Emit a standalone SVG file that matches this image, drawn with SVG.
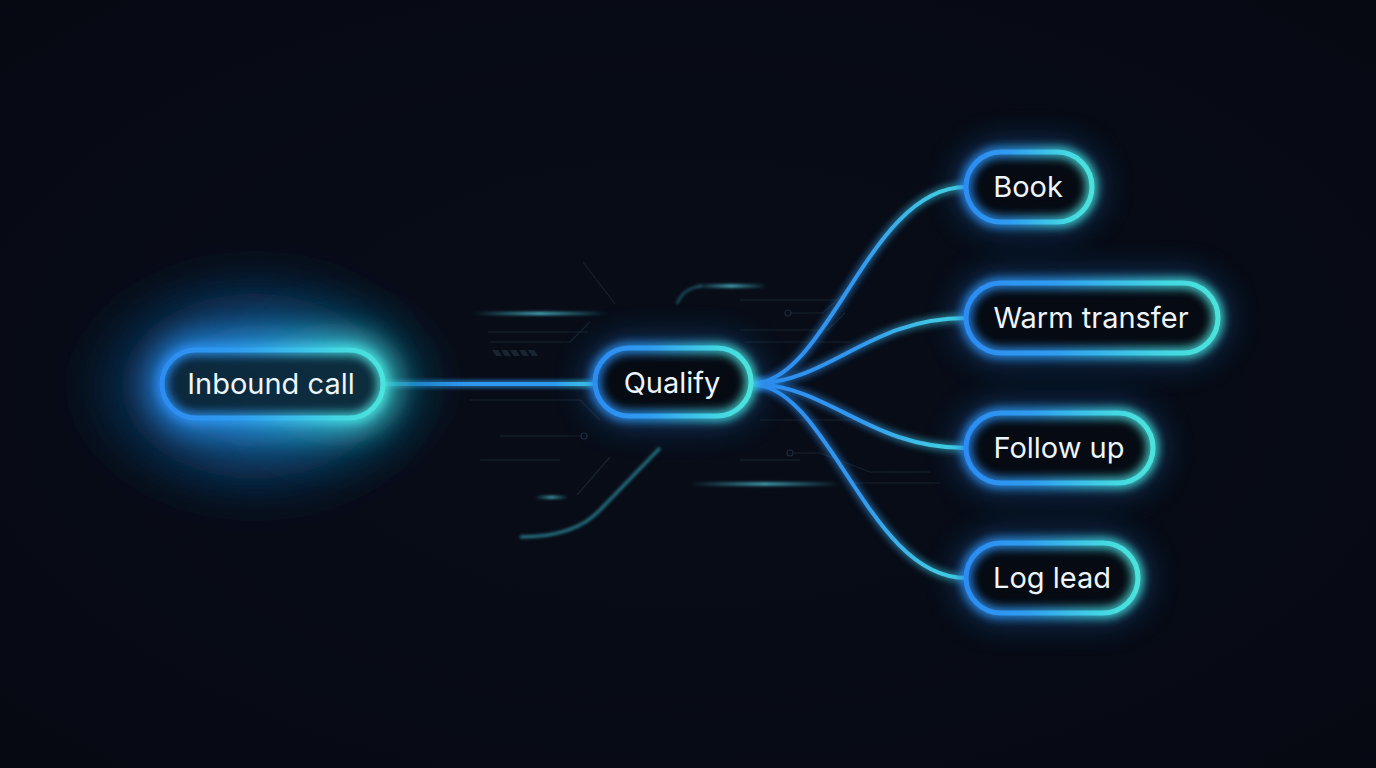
<svg xmlns="http://www.w3.org/2000/svg" width="1376" height="768" viewBox="0 0 1376 768">
<defs>
  <radialGradient id="bg" cx="50%" cy="50%" r="75%">
    <stop offset="0" stop-color="#080d18"/>
    <stop offset="1" stop-color="#060912"/>
  </radialGradient>
  <linearGradient id="pill" x1="0" y1="0.5" x2="1" y2="0.5">
    <stop offset="0" stop-color="#2c8cf2"/>
    <stop offset="0.35" stop-color="#2f9cf0"/>
    <stop offset="0.8" stop-color="#44d8e2"/>
    <stop offset="1" stop-color="#4be3dc"/>
  </linearGradient>
  <linearGradient id="fan" gradientUnits="userSpaceOnUse" x1="755" y1="0" x2="965" y2="0">
    <stop offset="0" stop-color="#2d8cf0"/>
    <stop offset="0.5" stop-color="#3398ee"/>
    <stop offset="1" stop-color="#46dde0"/>
  </linearGradient>
  <linearGradient id="straight" gradientUnits="userSpaceOnUse" x1="383" y1="0" x2="597" y2="0">
    <stop offset="0" stop-color="#3fcfe6"/>
    <stop offset="0.15" stop-color="#2f9af0"/>
    <stop offset="0.8" stop-color="#2f9af0"/>
    <stop offset="1" stop-color="#45d8e2"/>
  </linearGradient>
  <linearGradient id="streak" x1="0" y1="0" x2="1" y2="0">
    <stop offset="0" stop-color="#3fd0e6" stop-opacity="0"/>
    <stop offset="0.5" stop-color="#5ad8ea" stop-opacity="0.9"/>
    <stop offset="1" stop-color="#3fd0e6" stop-opacity="0"/>
  </linearGradient>
  <radialGradient id="haloBlue" cx="50%" cy="50%" r="50%">
    <stop offset="0" stop-color="#2390e0" stop-opacity="1"/>
    <stop offset="0.45" stop-color="#1668ad" stop-opacity="0.7"/>
    <stop offset="0.8" stop-color="#0c3560" stop-opacity="0.28"/>
    <stop offset="1" stop-color="#0b2a48" stop-opacity="0"/>
  </radialGradient>
  <radialGradient id="haloTeal" cx="50%" cy="50%" r="50%">
    <stop offset="0" stop-color="#2ccad4" stop-opacity="0.75"/>
    <stop offset="0.5" stop-color="#1a90a6" stop-opacity="0.3"/>
    <stop offset="1" stop-color="#0b3040" stop-opacity="0"/>
  </radialGradient>
  <filter id="b3" x="-50%" y="-50%" width="200%" height="200%"><feGaussianBlur stdDeviation="3"/></filter>
  <filter id="b5" x="-50%" y="-50%" width="200%" height="200%"><feGaussianBlur stdDeviation="5"/></filter>
  <filter id="b12" x="-60%" y="-80%" width="220%" height="260%"><feGaussianBlur stdDeviation="12"/></filter>
  <filter id="b16" x="-60%" y="-80%" width="220%" height="260%"><feGaussianBlur stdDeviation="16"/></filter>
  <filter id="b1" filterUnits="userSpaceOnUse" x="0" y="0" width="1376" height="768"><feGaussianBlur stdDeviation="1.6"/></filter>
</defs>
<style>
  .lbl { font-family: Inter, "Noto Sans", "Liberation Sans", sans-serif; font-size: 29px; fill: #eef5fa; text-anchor: middle; }
  .fill { fill: #060a12; }
  .edge { fill: none; stroke: url(#pill); stroke-width: 5; }
  .edgeGlow { fill: none; stroke: url(#pill); stroke-width: 11; opacity: 0.9; filter: url(#b5); }
  .haze { fill: none; stroke: #1f78d8; stroke-width: 16; opacity: 0.5; filter: url(#b16); }
  .wire { fill: none; stroke: url(#fan); stroke-width: 4; stroke-linecap: round; }
  .wireGlow { fill: none; stroke: url(#fan); stroke-width: 9; opacity: 0.5; filter: url(#b3); }
  .circ { fill: none; stroke: #17222f; stroke-width: 1.2; }
  .dot { fill: none; stroke: #1e2b3a; stroke-width: 1.2; }
  .str { fill: url(#streak); filter: url(#b1); }
</style>

<rect width="1376" height="768" fill="url(#bg)"/>

<g id="decor">
  <path class="circ" d="M583 262 L615 304"/>
  <path class="circ" d="M488 332 L588 332"/>
  <path class="circ" d="M490 342 L570 342 L590 322"/>
  <g fill="#1a2534">
    <path d="M492 350 l6 0 l4 6 l-6 0z"/>
    <path d="M501 350 l6 0 l4 6 l-6 0z"/>
    <path d="M510 350 l6 0 l4 6 l-6 0z"/>
    <path d="M519 350 l6 0 l4 6 l-6 0z"/>
    <path d="M528 350 l6 0 l4 6 l-6 0z"/>
  </g>
  <path class="circ" d="M470 400 L580 400 L600 420"/>
  <path class="circ" d="M500 436 L580 436"/>
  <circle class="dot" cx="584" cy="436" r="3"/>
  <path class="circ" d="M610 457 L577 495"/>
  <path class="circ" d="M480 460 L560 460"/>
  <path class="circ" d="M740 300 L840 300"/>
  <path class="circ" d="M790 313 L823 313 L850 288"/>
  <circle class="dot" cx="788" cy="313" r="3"/>
  <path class="circ" d="M740 330 L828 330 L845 313"/>
  <path class="circ" d="M745 342 L850 342"/>
  <path class="circ" d="M760 420 L860 420"/>
  <circle class="dot" cx="790" cy="453" r="3"/>
  <path class="circ" d="M793 453 L820 453 L870 472 L930 472"/>
  <path class="circ" d="M740 460 L800 460"/>
  <path class="circ" d="M850 483 L940 483"/>
  <rect class="str" x="473" y="312" width="134" height="3"/>
  <rect class="str" x="690" y="482.5" width="150" height="3"/>
  <rect class="str" x="535" y="496" width="33" height="2.5"/>
  <rect class="str" x="695" y="284.5" width="72" height="3"/>
  <path d="M677 304 Q 683 288 702 286" fill="none" stroke="#3fc8e0" stroke-opacity="0.45" stroke-width="2" filter="url(#b1)"/>
  <path d="M520 537 Q 575 537 600 510 L660 448" fill="none" stroke="#3ec6dc" stroke-opacity="0.6" stroke-width="3" filter="url(#b1)"/>
</g>

<g id="connectors">
  <path d="M383 384 L597 384" fill="none" stroke="url(#straight)" stroke-width="9" opacity="0.5" filter="url(#b1)"/>
  <path d="M383 384 L597 384" fill="none" stroke="url(#straight)" stroke-width="4"/>
  <path class="wireGlow" d="M752 384 C830 381 868 187 966 187"/>
  <path class="wireGlow" d="M752 384 C830 383 868 318 966 318"/>
  <path class="wireGlow" d="M752 384 C830 385 868 448 966 448"/>
  <path class="wireGlow" d="M752 384 C830 387 868 578 966 578"/>
  <path class="wire" d="M752 384 C830 381 868 187 966 187"/>
  <path class="wire" d="M752 384 C830 383 868 318 966 318"/>
  <path class="wire" d="M752 384 C830 385 868 448 966 448"/>
  <path class="wire" d="M752 384 C830 387 868 578 966 578"/>
</g>

<g id="inbound">
  <ellipse cx="255" cy="386" rx="195" ry="135" fill="url(#haloBlue)" filter="url(#b16)"/>
  <ellipse cx="335" cy="384" rx="125" ry="100" fill="url(#haloTeal)" filter="url(#b16)"/>
  <rect x="162" y="350" width="221" height="68" rx="34" fill="none" stroke="url(#pill)" stroke-width="34" opacity="0.55" filter="url(#b12)"/>
  <rect x="162" y="350" width="221" height="68" rx="34" fill="#0c2536" opacity="0.94"/>
  <rect class="edgeGlow" x="162" y="350" width="221" height="68" rx="34" stroke-width="13"/>
  <rect class="edge" x="162" y="350" width="221" height="68" rx="34"/>
  <text class="lbl" x="271" y="394">Inbound call</text>
</g>

<g id="qualify">
  <rect class="haze" x="595" y="348" width="156" height="68" rx="34"/>
  <rect class="fill" x="595" y="348" width="156" height="68" rx="34"/>
  <rect class="edgeGlow" x="595" y="348" width="156" height="68" rx="34"/>
  <rect class="edge" x="595" y="348" width="156" height="68" rx="34"/>
  <text class="lbl" x="672" y="393">Qualify</text>
</g>

<g id="book">
  <rect class="haze" x="966" y="152" width="126" height="70" rx="35"/>
  <rect class="fill" x="966" y="152" width="126" height="70" rx="35"/>
  <rect class="edgeGlow" x="966" y="152" width="126" height="70" rx="35"/>
  <rect class="edge" x="966" y="152" width="126" height="70" rx="35"/>
  <text class="lbl" x="1028" y="197">Book</text>
</g>

<g id="warm">
  <rect class="haze" x="966" y="283" width="252" height="70" rx="35"/>
  <rect class="fill" x="966" y="283" width="252" height="70" rx="35"/>
  <rect class="edgeGlow" x="966" y="283" width="252" height="70" rx="35"/>
  <rect class="edge" x="966" y="283" width="252" height="70" rx="35"/>
  <text class="lbl" x="1091" y="328">Warm transfer</text>
</g>

<g id="follow">
  <rect class="haze" x="966" y="413" width="187" height="70" rx="35"/>
  <rect class="fill" x="966" y="413" width="187" height="70" rx="35"/>
  <rect class="edgeGlow" x="966" y="413" width="187" height="70" rx="35"/>
  <rect class="edge" x="966" y="413" width="187" height="70" rx="35"/>
  <text class="lbl" x="1059" y="458">Follow up</text>
</g>

<g id="log">
  <rect class="haze" x="966" y="543" width="172" height="70" rx="35"/>
  <rect class="fill" x="966" y="543" width="172" height="70" rx="35"/>
  <rect class="edgeGlow" x="966" y="543" width="172" height="70" rx="35"/>
  <rect class="edge" x="966" y="543" width="172" height="70" rx="35"/>
  <text class="lbl" x="1052" y="588">Log lead</text>
</g>
</svg>
